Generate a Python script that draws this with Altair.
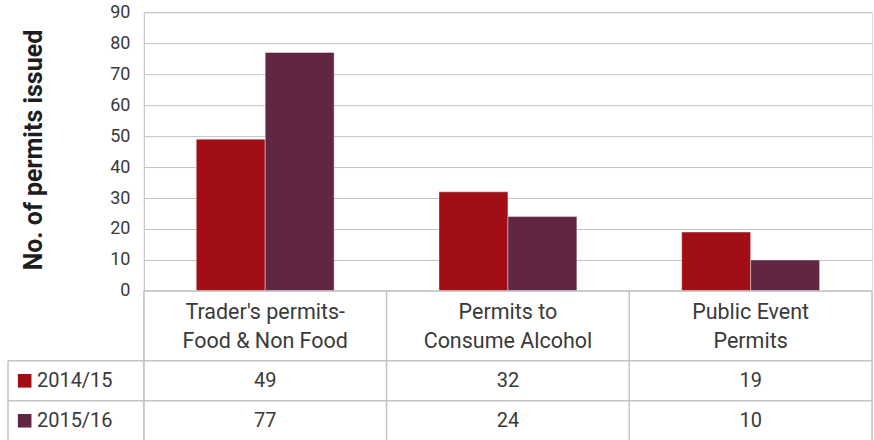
import altair as alt
import pandas as pd

categories = ["Trader's permits-\nFood & Non Food", "Permits to\nConsume Alcohol", "Public Event\nPermits"]
years = ["2014/15", "2015/16"]
values_2014 = [49, 32, 19]
values_2015 = [77, 24, 10]
colors = ["#a20e16", "#612641"]
y_ticks = list(range(0, 100, 10))

FONT = "Roboto"
TEXT = "#3a3a3a"
GRID = "#c4c4c4"
W = 729
H_TOP = 279
H_TAB = 150
LEG = -136 / 243  # left edge of the legend column, in category units

rows = []
for i, c in enumerate(categories):
    rows.append({"category": c, "idx": i + 0.5, "year": years[0], "value": values_2014[i], "row": 2.25})
    rows.append({"category": c, "idx": i + 0.5, "year": years[1], "value": values_2015[i], "row": 3.25})
df = pd.DataFrame(rows)

color_scale = alt.Scale(domain=years, range=colors)

bars = alt.Chart(df).mark_bar(stroke="#ffffff", strokeWidth=0.4).encode(
    x=alt.X("category:N", sort=categories, axis=None,
            scale=alt.Scale(paddingInner=0.432, paddingOuter=0.216)),
    xOffset=alt.XOffset("year:N", sort=years),
    y=alt.Y("value:Q", scale=alt.Scale(domain=[0, 90], nice=False),
            axis=alt.Axis(values=y_ticks, title="No. of permits issued",
                          titleFont=FONT, titleFontSize=25, titleFontWeight="bold",
                          titleColor="#1e1e1e", titleX=-110, titleY=H_TOP / 2 - 2,
                          titleAngle=-90, titleAlign="center", titleBaseline="middle",
                          labelFont=FONT, labelFontSize=18, labelColor=TEXT,
                          labelPadding=14, ticks=False, domainColor=GRID,
                          gridColor=GRID, gridWidth=1, domainWidth=1)),
    color=alt.Color("year:N", scale=color_scale, legend=None),
).properties(width=W, height=H_TOP)

# table structure
h_lines = pd.DataFrame({"y": [0, 1.75, 2.75, 3.75], "x0": [0, LEG, LEG, LEG], "x1": [3, 3, 3, 3]})
v_lines = pd.DataFrame({"x": [0, 1, 2, 3, LEG], "y0": [0, 0, 0, 0, 1.75], "y1": [3.75] * 5})
legend_df = pd.DataFrame({"year": years, "row": [2.25, 3.25]})

xs = alt.Scale(domain=[0, 3], nice=False, zero=False)
ys = alt.Scale(domain=[0, 3.75], nice=False, zero=False, reverse=True)

hl = alt.Chart(h_lines).mark_rule(color=GRID, strokeWidth=1.5).encode(
    x=alt.X("x0:Q", scale=xs, axis=None), x2="x1:Q",
    y=alt.Y("y:Q", scale=ys, axis=None))
vl = alt.Chart(v_lines).mark_rule(color=GRID, strokeWidth=1.5).encode(
    x=alt.X("x:Q", scale=xs, axis=None),
    y=alt.Y("y0:Q", scale=ys, axis=None), y2="y1:Q")

header = alt.Chart(df[df.year == years[0]]).mark_text(
    font=FONT, fontSize=21.5, color=TEXT, lineBreak="\n", lineHeight=29, baseline="middle"
).encode(x=alt.X("idx:Q", scale=xs, axis=None),
         y=alt.Y("hy:Q", scale=ys, axis=None), text="category:N"
).transform_calculate(hy="0.56")

cells = alt.Chart(df).mark_text(font=FONT, fontSize=20, color=TEXT, baseline="middle").encode(
    x=alt.X("idx:Q", scale=xs, axis=None),
    y=alt.Y("row:Q", scale=ys, axis=None), text="value:Q")

swatch = alt.Chart(legend_df).mark_square(size=185, opacity=1).encode(
    x=alt.X("sx:Q", scale=xs, axis=None),
    y=alt.Y("row:Q", scale=ys, axis=None),
    color=alt.Color("year:N", scale=color_scale, legend=None)
).transform_calculate(sx=str(-119.3 / 243))

leg_text = alt.Chart(legend_df).mark_text(font=FONT, fontSize=20, color=TEXT, align="left",
                                          baseline="middle").encode(
    x=alt.X("tx:Q", scale=xs, axis=None),
    y=alt.Y("row:Q", scale=ys, axis=None), text="year:N"
).transform_calculate(tx=str(-107 / 243))

table = alt.layer(hl, vl, header, cells, swatch, leg_text).properties(width=W, height=H_TAB)

chart = alt.vconcat(bars, table, spacing=0, bounds="flush").properties(
    padding={"left": 6, "top": 2, "right": 0, "bottom": 0}
).configure_view(stroke=None).configure(background="white")

chart.save("out.html", embed_options={"renderer": "svg", "actions": False})
